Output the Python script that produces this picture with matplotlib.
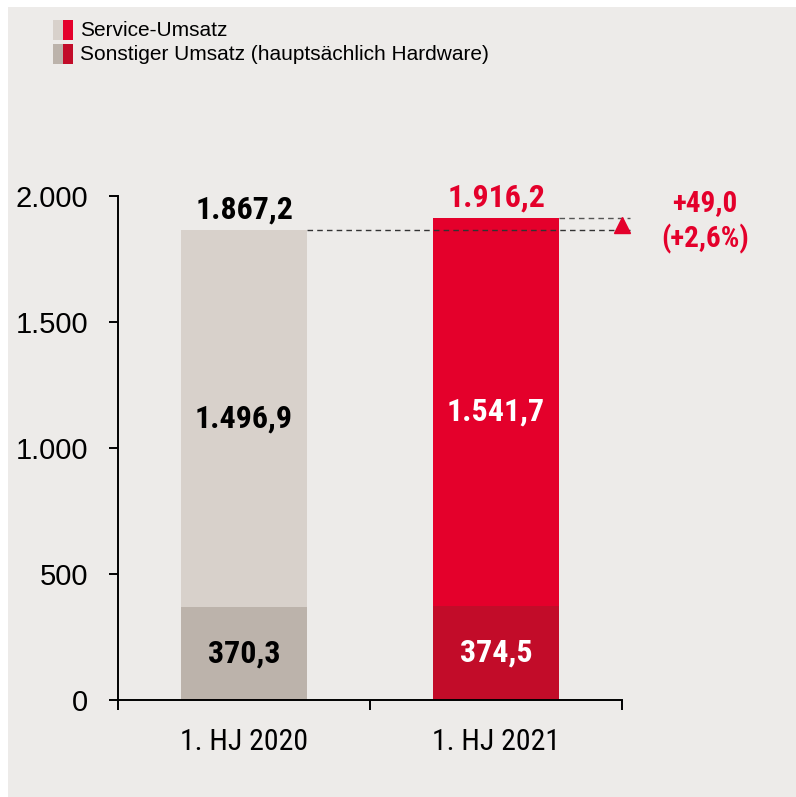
import matplotlib.pyplot as plt
from matplotlib import font_manager as fm
from matplotlib.patches import Rectangle

# Daten (Mio. EUR)
categories = ['1. HJ 2020', '1. HJ 2021']
service = [1496.9, 1541.7]
sonstige = [370.3, 374.5]
totals = [1867.2, 1916.2]
service_labels = ['1.496,9', '1.541,7']
sonstige_labels = ['370,3', '374,5']
total_labels = ['1.867,2', '1.916,2']
delta_text = '+49,0\n(+2,6%)'
yticks = [0, 500, 1000, 1500, 2000]
ytick_labels = ['0', '500', '1.000', '1.500', '2.000']

bg = '#edebe9'
light_grey = '#d8d1cb'
dark_grey = '#bcb3ab'
red = '#e4002b'
dark_red = '#c20c29'


# schmale Schrift suchen (Arial Narrow o.ae.), sonst Liberation Sans
def narrow_face(bold):
    want = 700 if bold else 400
    for fam in ['Liberation Sans Narrow', 'Arial Narrow', 'Roboto Condensed', 'Noto Sans', 'Open Sans']:
        for f in fm.fontManager.ttflist:
            if f.name != fam or f.style != 'normal':
                continue
            w = f.weight if isinstance(f.weight, int) else fm.weight_dict.get(f.weight, 400)
            if w != want:
                continue
            if fam.endswith(('Narrow', 'Condensed')) or f.stretch == 'condensed':
                return fm.FontProperties(fname=f.fname)
    return None


nar_reg = narrow_face(False)
nar_bold = narrow_face(True)
found = nar_reg is not None and nar_bold is not None
if not found:
    nar_reg = fm.FontProperties(family=['Liberation Sans', 'DejaVu Sans'])
    nar_bold = fm.FontProperties(family=['Liberation Sans', 'DejaVu Sans'], weight='bold')
scale = 1.0 if found else 0.88

regular = ['Liberation Sans', 'DejaVu Sans']

fig = plt.figure(figsize=(7.96, 7.97), dpi=100)
fig.patch.set_facecolor('white')
fig.patches.append(Rectangle((8/796, 0), 1, 1 - 7/797, transform=fig.transFigure,
                             facecolor=bg, edgecolor='none', zorder=-10))

ax = fig.add_axes([118/796, 1 - 700/797, 504/796, 503.5/797])
ax.set_facecolor('none')

x = [0, 1]
ax.bar(x, sonstige, width=0.5, color=[dark_grey, dark_red], zorder=2)
ax.bar(x, service, width=0.5, bottom=sonstige, color=[light_grey, red], zorder=2)

# Wertebeschriftungen
txt_col = ['black', 'white']
vsize = 23 * scale
for i in x:
    ax.text(i, sonstige[i] / 2, sonstige_labels[i], ha='center', va='center',
            fontproperties=nar_bold, fontsize=vsize, color=txt_col[i])
    ax.text(i, sonstige[i] + service[i] / 2, service_labels[i], ha='center', va='center',
            fontproperties=nar_bold, fontsize=vsize, color=txt_col[i])
    ax.annotate(total_labels[i], (i, totals[i]), xytext=(0, 4), textcoords='offset points',
                ha='center', va='bottom', fontproperties=nar_bold, fontsize=vsize,
                color=['black', red][i])

# Differenz
ax.plot([0.25, 1.53], [totals[0]] * 2, ls=(0, (4, 3)), color='#333333', lw=1, clip_on=False, zorder=3)
ax.plot([1.25, 1.53], [totals[1]] * 2, ls=(0, (4, 3)), color='#555555', lw=1, clip_on=False, zorder=3)
ax.plot(1.5, (totals[0] + totals[1]) / 2 - 5, marker='^', ms=11, color=red, clip_on=False, zorder=4)
ax.text(1.83, (totals[0] + totals[1]) / 2 + 10, delta_text, ha='center', va='center',
        fontproperties=nar_bold, fontsize=21 * scale, color=red, linespacing=1.3)

ax.set_xlim(-0.5, 1.5)
ax.set_ylim(0, 2000)
ax.spines[['top', 'right']].set_visible(False)
for s in ['left', 'bottom']:
    ax.spines[s].set_linewidth(1.4)

ax.set_yticks(yticks)
ax.set_yticklabels(ytick_labels, family=regular, fontsize=21)
ax.tick_params(axis='y', length=6.5, width=1.4, pad=15)

ax.set_xticks([-0.5, 0.5, 1.5])
ax.set_xticklabels([])
ax.tick_params(axis='x', which='major', length=7, width=1.4)
ax.set_xticks(x, minor=True)
ax.set_xticklabels(categories, minor=True, fontproperties=nar_reg, fontsize=21.5 * scale)
ax.tick_params(axis='x', which='minor', length=0, pad=20)

# Legende
legend_items = [('Service-Umsatz', light_grey, red, 1 - 30/797),
                ('Sonstiger Umsatz (hauptsächlich Hardware)', dark_grey, dark_red, 1 - 54/797)]
for label, c1, c2, yc in legend_items:
    h = 19/797
    fig.patches.append(Rectangle((53/796, yc - h/2), 10/796, h, transform=fig.transFigure,
                                 facecolor=c1, edgecolor='none'))
    fig.patches.append(Rectangle((63/796, yc - h/2), 10/796, h, transform=fig.transFigure,
                                 facecolor=c2, edgecolor='none'))
    fig.text(80/796, yc, label, ha='left', va='center', fontsize=15, family=regular, color='black')

fig.savefig('out.png', dpi=100)
